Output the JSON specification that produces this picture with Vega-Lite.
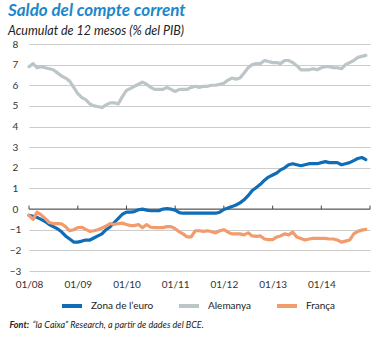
{
  "$schema": "https://vega.github.io/schema/vega-lite/v6.json",
  "width": 341,
  "height": 227,
  "autosize": "none",
  "padding": {"left": 29, "top": 44, "right": 11, "bottom": 67},
  "background": "white",
  "title": {
    "text": "Saldo del compte corrent",
    "subtitle": "Acumulat de 12 mesos (% del PIB)",
    "anchor": "start",
    "frame": "group",
    "align": "left",
    "dx": -21,
    "font": "Lato",
    "fontSize": 17,
    "fontWeight": "bold",
    "fontStyle": "italic",
    "color": "#1d87cc",
    "subtitleFont": "Lato",
    "subtitleFontSize": 12.5,
    "subtitleFontStyle": "italic",
    "subtitleColor": "#222222",
    "subtitlePadding": 5,
    "offset": 1
  },
  "datasets": {
    "series": [
      {"d": "2008-01-01", "z": -0.3, "a": 6.9, "f": -0.3},
      {"d": "2008-02-01", "z": -0.35, "a": 7.05, "f": -0.5},
      {"d": "2008-03-01", "z": -0.4, "a": 6.85, "f": -0.15},
      {"d": "2008-04-01", "z": -0.5, "a": 6.9, "f": -0.28},
      {"d": "2008-05-01", "z": -0.6, "a": 6.85, "f": -0.45},
      {"d": "2008-06-01", "z": -0.75, "a": 6.8, "f": -0.65},
      {"d": "2008-07-01", "z": -0.85, "a": 6.75, "f": -0.7},
      {"d": "2008-08-01", "z": -0.95, "a": 6.6, "f": -0.7},
      {"d": "2008-09-01", "z": -1.1, "a": 6.45, "f": -0.72},
      {"d": "2008-10-01", "z": -1.3, "a": 6.35, "f": -0.85},
      {"d": "2008-11-01", "z": -1.45, "a": 6.2, "f": -1.05},
      {"d": "2008-12-01", "z": -1.6, "a": 5.9, "f": -1.0},
      {"d": "2009-01-01", "z": -1.6, "a": 5.6, "f": -0.9},
      {"d": "2009-02-01", "z": -1.55, "a": 5.4, "f": -0.88},
      {"d": "2009-03-01", "z": -1.5, "a": 5.3, "f": -0.98},
      {"d": "2009-04-01", "z": -1.5, "a": 5.1, "f": -1.08},
      {"d": "2009-05-01", "z": -1.4, "a": 5.0, "f": -1.05},
      {"d": "2009-06-01", "z": -1.3, "a": 4.97, "f": -1.0},
      {"d": "2009-07-01", "z": -1.2, "a": 4.92, "f": -0.92},
      {"d": "2009-08-01", "z": -1.0, "a": 5.05, "f": -0.82},
      {"d": "2009-09-01", "z": -0.85, "a": 5.15, "f": -0.7},
      {"d": "2009-10-01", "z": -0.65, "a": 5.15, "f": -0.75},
      {"d": "2009-11-01", "z": -0.45, "a": 5.1, "f": -0.7},
      {"d": "2009-12-01", "z": -0.25, "a": 5.45, "f": -0.68},
      {"d": "2010-01-01", "z": -0.15, "a": 5.75, "f": -0.75},
      {"d": "2010-02-01", "z": -0.15, "a": 5.85, "f": -0.8},
      {"d": "2010-03-01", "z": -0.12, "a": 5.95, "f": -0.8},
      {"d": "2010-04-01", "z": -0.03, "a": 6.05, "f": -0.75},
      {"d": "2010-05-01", "z": 0.0, "a": 6.15, "f": -0.9},
      {"d": "2010-06-01", "z": -0.05, "a": 6.05, "f": -0.75},
      {"d": "2010-07-01", "z": -0.08, "a": 5.9, "f": -0.88},
      {"d": "2010-08-01", "z": -0.08, "a": 5.8, "f": -0.9},
      {"d": "2010-09-01", "z": -0.08, "a": 5.8, "f": -0.9},
      {"d": "2010-10-01", "z": 0.0, "a": 5.8, "f": -0.9},
      {"d": "2010-11-01", "z": 0.02, "a": 5.9, "f": -0.85},
      {"d": "2010-12-01", "z": 0.0, "a": 5.8, "f": -0.85},
      {"d": "2011-01-01", "z": -0.05, "a": 5.7, "f": -0.95},
      {"d": "2011-02-01", "z": -0.17, "a": 5.8, "f": -1.1},
      {"d": "2011-03-01", "z": -0.2, "a": 5.8, "f": -1.2},
      {"d": "2011-04-01", "z": -0.2, "a": 5.8, "f": -1.35},
      {"d": "2011-05-01", "z": -0.2, "a": 5.9, "f": -1.35},
      {"d": "2011-06-01", "z": -0.2, "a": 5.95, "f": -1.05},
      {"d": "2011-07-01", "z": -0.2, "a": 5.9, "f": -1.05},
      {"d": "2011-08-01", "z": -0.2, "a": 5.95, "f": -1.08},
      {"d": "2011-09-01", "z": -0.2, "a": 5.95, "f": -1.05},
      {"d": "2011-10-01", "z": -0.2, "a": 6.0, "f": -1.1},
      {"d": "2011-11-01", "z": -0.2, "a": 6.0, "f": -1.15},
      {"d": "2011-12-01", "z": -0.15, "a": 6.05, "f": -1.05},
      {"d": "2012-01-01", "z": -0.02, "a": 6.1, "f": -1.0},
      {"d": "2012-02-01", "z": 0.05, "a": 6.25, "f": -1.12},
      {"d": "2012-03-01", "z": 0.12, "a": 6.35, "f": -1.2},
      {"d": "2012-04-01", "z": 0.2, "a": 6.3, "f": -1.2},
      {"d": "2012-05-01", "z": 0.3, "a": 6.35, "f": -1.2},
      {"d": "2012-06-01", "z": 0.45, "a": 6.6, "f": -1.25},
      {"d": "2012-07-01", "z": 0.65, "a": 6.85, "f": -1.15},
      {"d": "2012-08-01", "z": 0.9, "a": 7.0, "f": -1.3},
      {"d": "2012-09-01", "z": 1.05, "a": 7.05, "f": -1.32},
      {"d": "2012-10-01", "z": 1.2, "a": 7.05, "f": -1.3},
      {"d": "2012-11-01", "z": 1.4, "a": 7.2, "f": -1.45},
      {"d": "2012-12-01", "z": 1.55, "a": 7.15, "f": -1.48},
      {"d": "2013-01-01", "z": 1.65, "a": 7.1, "f": -1.48},
      {"d": "2013-02-01", "z": 1.75, "a": 7.1, "f": -1.35},
      {"d": "2013-03-01", "z": 1.9, "a": 7.05, "f": -1.3},
      {"d": "2013-04-01", "z": 2.0, "a": 7.2, "f": -1.2},
      {"d": "2013-05-01", "z": 2.15, "a": 7.2, "f": -1.25},
      {"d": "2013-06-01", "z": 2.2, "a": 7.1, "f": -1.12},
      {"d": "2013-07-01", "z": 2.15, "a": 6.95, "f": -1.35},
      {"d": "2013-08-01", "z": 2.1, "a": 6.75, "f": -1.42},
      {"d": "2013-09-01", "z": 2.15, "a": 6.75, "f": -1.5},
      {"d": "2013-10-01", "z": 2.2, "a": 6.75, "f": -1.45},
      {"d": "2013-11-01", "z": 2.2, "a": 6.8, "f": -1.42},
      {"d": "2013-12-01", "z": 2.2, "a": 6.75, "f": -1.42},
      {"d": "2014-01-01", "z": 2.25, "a": 6.85, "f": -1.42},
      {"d": "2014-02-01", "z": 2.3, "a": 6.9, "f": -1.42},
      {"d": "2014-03-01", "z": 2.25, "a": 6.9, "f": -1.45},
      {"d": "2014-04-01", "z": 2.25, "a": 6.85, "f": -1.45},
      {"d": "2014-05-01", "z": 2.25, "a": 6.85, "f": -1.5},
      {"d": "2014-06-01", "z": 2.15, "a": 6.8, "f": -1.6},
      {"d": "2014-07-01", "z": 2.2, "a": 7.0, "f": -1.55},
      {"d": "2014-08-01", "z": 2.25, "a": 7.1, "f": -1.5},
      {"d": "2014-09-01", "z": 2.35, "a": 7.2, "f": -1.2},
      {"d": "2014-10-01", "z": 2.45, "a": 7.35, "f": -1.08},
      {"d": "2014-11-01", "z": 2.5, "a": 7.4, "f": -1.02},
      {"d": "2014-12-01", "z": 2.4, "a": 7.45, "f": -0.98}
    ],
    "years": [
      {"d": "2008-01-01"}, {"d": "2009-01-01"}, {"d": "2010-01-01"}, {"d": "2011-01-01"},
      {"d": "2012-01-01"}, {"d": "2013-01-01"}, {"d": "2014-01-01"}, {"d": "2015-01-01"}
    ],
    "zero": [{"zero": 0}]
  },
  "config": {
    "view": {"stroke": null},
    "font": "Lato",
    "axis": {"labelFont": "Lato", "labelColor": "#333333", "labelFontSize": 10, "labelOverlap": false},
    "axisX": {
      "domain": false,
      "ticks": false,
      "tickSize": 0,
      "grid": false,
      "labelPadding": 8,
      "labelFlush": false,
      "titleFont": "Lato",
      "titleFontSize": 9,
      "titleFontStyle": "italic",
      "titleFontWeight": "normal",
      "titleColor": "#222222",
      "titleAnchor": "start",
      "titleAlign": "left",
      "titleBaseline": "alphabetic",
      "titleX": 3,
      "titleY": 56
    },
    "axisY": {
      "domain": false,
      "ticks": false,
      "tickSize": 0,
      "grid": true,
      "gridColor": "#cccccc",
      "gridWidth": 1,
      "labelAlign": "center",
      "labelPadding": 14,
      "titleFont": "Lato",
      "titleFontSize": 9,
      "titleFontStyle": "italic",
      "titleFontWeight": "bold",
      "titleColor": "#222222",
      "titleAngle": 0,
      "titleAlign": "left",
      "titleBaseline": "alphabetic",
      "titleX": -20,
      "titleY": 283
    }
  },
  "layer": [
    {
      "data": {"name": "years"},
      "mark": {"type": "rule", "color": "#444444", "strokeWidth": 1},
      "encoding": {
        "x": {
          "field": "d", "type": "temporal", "title": "“la Caixa” Research, a partir de dades del BCE.",
          "scale": {"type": "utc", "domain": [{"year": 2008, "month": 1, "date": 1, "utc": true}, {"year": 2015, "month": 1, "date": 1, "utc": true}]},
          "axis": {
            "values": [
              {"year": 2008, "month": 1, "date": 1, "utc": true},
              {"year": 2009, "month": 1, "date": 1, "utc": true},
              {"year": 2010, "month": 1, "date": 1, "utc": true},
              {"year": 2011, "month": 1, "date": 1, "utc": true},
              {"year": 2012, "month": 1, "date": 1, "utc": true},
              {"year": 2013, "month": 1, "date": 1, "utc": true},
              {"year": 2014, "month": 1, "date": 1, "utc": true}
            ],
            "format": "%m/%y"
          }
        },
        "y": {
          "datum": 0, "type": "quantitative", "title": "Font:",
          "scale": {"domain": [-3, 8], "nice": false, "zero": false},
          "axis": {"values": [-3, -2, -1, 0, 1, 2, 3, 4, 5, 6, 7, 8]}
        },
        "y2": {"datum": 0.17}
      }
    },
    {
      "data": {"name": "zero"},
      "mark": {"type": "rule", "color": "#444444", "strokeWidth": 1},
      "encoding": {
        "y": {
          "field": "zero", "type": "quantitative", "title": "Font:",
          "scale": {"domain": [-3, 8], "nice": false, "zero": false},
          "axis": {"values": [-3, -2, -1, 0, 1, 2, 3, 4, 5, 6, 7, 8]}
        }
      }
    },
    {
      "data": {"name": "series"},
      "transform": [{"fold": ["z", "a", "f"], "as": ["k", "v"]},
                    {"lookup": "k", "from": {"data": {"values": [{"k": "z", "s": "Zona de l’euro"}, {"k": "a", "s": "Alemanya"}, {"k": "f", "s": "França"}]}, "key": "k", "fields": ["s"]}}],
      "mark": {"type": "line", "strokeWidth": 3.2, "strokeJoin": "round", "strokeCap": "round"},
      "encoding": {
        "x": {
          "field": "d", "type": "temporal", "title": "“la Caixa” Research, a partir de dades del BCE.",
          "scale": {"type": "utc", "domain": [{"year": 2008, "month": 1, "date": 1, "utc": true}, {"year": 2015, "month": 1, "date": 1, "utc": true}]},
          "axis": {
            "values": [
              {"year": 2008, "month": 1, "date": 1, "utc": true},
              {"year": 2009, "month": 1, "date": 1, "utc": true},
              {"year": 2010, "month": 1, "date": 1, "utc": true},
              {"year": 2011, "month": 1, "date": 1, "utc": true},
              {"year": 2012, "month": 1, "date": 1, "utc": true},
              {"year": 2013, "month": 1, "date": 1, "utc": true},
              {"year": 2014, "month": 1, "date": 1, "utc": true}
            ],
            "format": "%m/%y"
          }
        },
        "y": {
          "field": "v", "type": "quantitative", "title": "Font:",
          "scale": {"domain": [-3, 8], "nice": false, "zero": false},
          "axis": {"values": [-3, -2, -1, 0, 1, 2, 3, 4, 5, 6, 7, 8]}
        },
        "color": {
          "field": "s", "type": "nominal", "title": null,
          "scale": {"domain": ["Zona de l’euro", "Alemanya", "França"], "range": ["#0f6db7", "#bcc5c8", "#f29b6c"]},
          "legend": {
            "orient": "none",
            "direction": "horizontal",
            "legendX": 31,
            "legendY": 250,
            "symbolType": "stroke",
            "symbolSize": 400,
            "symbolStrokeWidth": 4,
            "labelFont": "Lato",
            "labelFontSize": 10,
            "labelColor": "#222222",
            "labelOffset": 7,
            "columnPadding": 17
          }
        }
      }
    }
  ]
}
